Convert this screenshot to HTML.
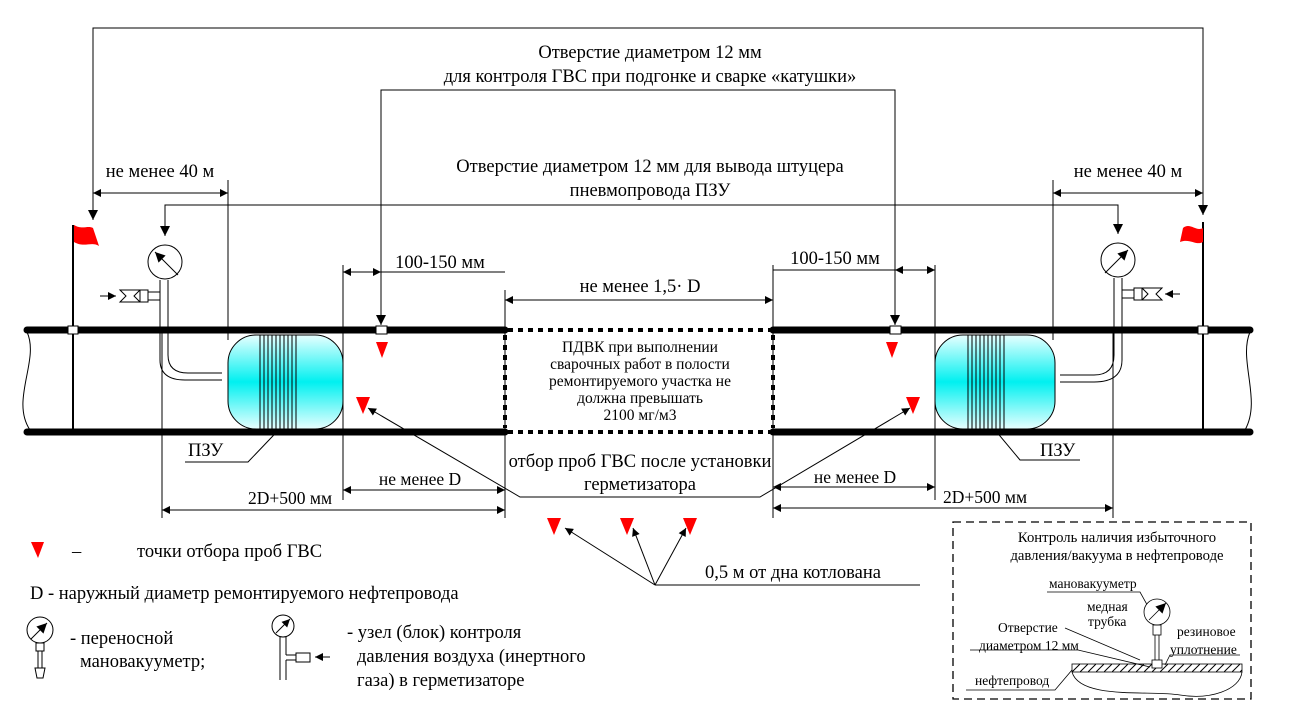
<!DOCTYPE html>
<html><head><meta charset="utf-8"><style>
html,body{margin:0;padding:0;background:#fff}
svg{display:block;font-size:18.5px}
text{font-family:"Liberation Serif",serif;fill:#000}
</style></head><body>
<svg width="1308" height="720" viewBox="0 0 1308 720" xmlns="http://www.w3.org/2000/svg">
<defs>
<marker id="a" viewBox="0 0 10 10" refX="10" refY="5" markerWidth="10" markerHeight="8" orient="auto-start-reverse" markerUnits="userSpaceOnUse"><path d="M0,0 L10,5 L0,10 z" fill="#000"/></marker>
<marker id="b" viewBox="0 0 10 10" refX="10" refY="5" markerWidth="14" markerHeight="10" orient="auto-start-reverse" markerUnits="userSpaceOnUse"><path d="M0,0 L10,5 L0,10 z" fill="#000"/></marker>
<linearGradient id="g" x1="0" y1="0" x2="0" y2="1"><stop offset="0" stop-color="#e8ffff"/><stop offset="0.5" stop-color="#00f0f0"/><stop offset="1" stop-color="#e8ffff"/></linearGradient>
<pattern id="h" width="8" height="8" patternUnits="userSpaceOnUse"><path d="M0,8 L8,0" stroke="#000" stroke-width="1"/></pattern>
</defs>
<g fill="none" stroke="#000" stroke-width="1">
<polyline points="93,220 93,28 1203,28 1203,215" marker-end="url(#b)" marker-start="url(#b)"/>
<polyline points="381,325 381,90 895,90 895,325" marker-end="url(#b)" marker-start="url(#b)"/>
<polyline points="165,236 165,205 1118,205 1118,234" marker-end="url(#b)" marker-start="url(#b)"/>
<line x1="228" y1="180" x2="228" y2="340"/>
<line x1="93" y1="193" x2="228" y2="193" marker-start="url(#a)" marker-end="url(#a)"/>
<line x1="1053" y1="180" x2="1053" y2="340"/>
<line x1="1053" y1="193" x2="1203" y2="193" marker-start="url(#a)" marker-end="url(#a)"/>
<line x1="343" y1="265" x2="343" y2="500"/>
<line x1="343" y1="272" x2="381" y2="272" marker-start="url(#a)" marker-end="url(#a)"/>
<line x1="381" y1="272" x2="505" y2="272"/>
<line x1="935" y1="265" x2="935" y2="500"/>
<line x1="895" y1="270" x2="935" y2="270" marker-start="url(#a)" marker-end="url(#a)"/>
<line x1="773" y1="270" x2="895" y2="270"/>
<line x1="505" y1="290" x2="505" y2="518"/>
<line x1="773" y1="265" x2="773" y2="518"/>
<line x1="505" y1="300" x2="773" y2="300" marker-start="url(#a)" marker-end="url(#a)"/>
<line x1="162" y1="330" x2="162" y2="518"/>
<line x1="1113" y1="330" x2="1113" y2="518"/>
<line x1="343" y1="490" x2="505" y2="490" marker-start="url(#a)" marker-end="url(#a)"/>
<line x1="162" y1="510" x2="505" y2="510" marker-start="url(#a)" marker-end="url(#a)"/>
<line x1="773" y1="487" x2="935" y2="487" marker-start="url(#a)" marker-end="url(#a)"/>
<line x1="773" y1="508" x2="1113" y2="508" marker-start="url(#a)" marker-end="url(#a)"/>
<polyline points="368,408 520,497 760,497 910,408" marker-start="url(#a)" marker-end="url(#a)"/>
<polyline points="920,585 655,585"/>
<line x1="655" y1="585" x2="565" y2="528" marker-end="url(#a)"/>
<line x1="655" y1="585" x2="633" y2="528" marker-end="url(#a)"/>
<line x1="655" y1="585" x2="686" y2="528" marker-end="url(#a)"/>
<polyline points="185,462 248,462 290,418" marker-end="url(#a)"/>
<polyline points="1080,460 1020,460 985,418" marker-end="url(#a)"/>
<path d="M27,332 C40,360 10,400 30,430"/>
<path d="M1250,332 C1238,360 1262,400 1245,430"/>
</g>
<g stroke="#000" stroke-width="7" stroke-linecap="round">
<line x1="27" y1="330" x2="505" y2="330"/><line x1="27" y1="432" x2="505" y2="432"/>
<line x1="773" y1="330" x2="1250" y2="330"/><line x1="773" y1="432" x2="1250" y2="432"/>
</g>
<g stroke="#000" stroke-width="4" stroke-dasharray="5,5" fill="none">
<line x1="508" y1="330" x2="770" y2="330"/><line x1="508" y1="432" x2="770" y2="432"/>
<line x1="505" y1="335" x2="505" y2="428"/><line x1="773" y1="335" x2="773" y2="428"/>
</g>
<line x1="73" y1="225" x2="73" y2="432" stroke="#000" stroke-width="2"/>
<path d="M74,225 C82,230 88,225 93,228 L99,246 C92,241 84,248 74,242z" fill="#f00"/>
<line x1="1203" y1="222" x2="1203" y2="432" stroke="#000" stroke-width="2"/>
<path d="M1183,228 C1190,222 1196,232 1203,228 L1203,242 C1196,246 1190,238 1180,242z" fill="#f00"/>
<g fill="#fff" stroke="#000"><rect x="68" y="326" width="10" height="8"/><rect x="1198" y="326" width="10" height="8"/><rect x="376" y="326" width="11" height="8"/><rect x="890" y="326" width="11" height="8"/></g>
<g fill="none" stroke="#000">
<circle cx="165" cy="262" r="17" fill="#fff"/><line x1="178" y1="275" x2="155" y2="252" marker-end="url(#b)"/>
<path d="M160,280 V330 M168,280 V330 M160,330 V360 Q160,380 185,380 H222 M168,330 V355 Q168,373 188,373 H222" />
<path d="M148,292 H160 M148,300 H160"/><path d="M120,290 l6,6 -6,6 h20 l-6,-6 6,-6z M140,290 v12 h8 v-12z"/>
<line x1="100" y1="296" x2="116" y2="296" marker-end="url(#a)"/>
<circle cx="1118" cy="260" r="17" fill="#fff"/><line x1="1105" y1="273" x2="1128" y2="250" marker-end="url(#b)"/>
<path d="M1114,278 V330 M1122,278 V330 M1114,330 V355 Q1114,375 1094,375 H1060 M1122,330 V360 Q1122,382 1094,382 H1060"/>
<path d="M1122,290 H1134 M1122,298 H1134"/><path d="M1134,288 h8 v12 h-8z M1142,288 l6,6 -6,6 h20 l-6,-6 6,-6z"/>
<line x1="1180" y1="294" x2="1165" y2="294" marker-end="url(#a)"/>
</g>
<g stroke="#000">
<rect x="228" y="335" width="115" height="94" rx="28" fill="url(#g)"/>
<rect x="935" y="335" width="120" height="94" rx="28" fill="url(#g)"/>
<path d="M260,335V429M264,335V429M268,335V429M272,335V429M276,335V429M280,335V429M284,335V429M288,335V429M292,335V429M296,335V429" fill="none"/>
<path d="M968,335V429M972,335V429M976,335V429M980,335V429M984,335V429M988,335V429M992,335V429M996,335V429M1000,335V429M1004,335V429" fill="none"/>
</g>
<g fill="#f00">
<path d="M376,342h12l-6,16z"/><path d="M356,397h14l-7,17z"/><path d="M886,342h12l-6,16z"/><path d="M906,397h14l-7,17z"/>
<path d="M547,518h14l-7,17z"/><path d="M620,518h14l-7,17z"/><path d="M683,518h14l-7,17z"/><path d="M31,542h13l-6,16z"/>
</g>
<g text-anchor="middle">
<text x="650" y="58">Отверстие диаметром 12 мм</text>
<text x="650" y="82">для контроля ГВС при подгонке и сварке «катушки»</text>
<text x="650" y="172">Отверстие диаметром 12 мм для вывода штуцера</text>
<text x="650" y="196">пневмопровода ПЗУ</text>
<text x="160" y="177">не менее 40 м</text>
<text x="1128" y="177">не менее 40 м</text>
<text x="440" y="268">100-150 мм</text>
<text x="835" y="264">100-150 мм</text>
<text x="640" y="292">не менее 1,5· D</text>
<g style="font-size:15.5px"><text x="640" y="352">ПДВК при выполнении</text><text x="640" y="369">сварочных работ в полости</text><text x="640" y="386">ремонтируемого участка не</text><text x="640" y="403">должна превышать</text><text x="640" y="420">2100 мг/м3</text></g>
<text x="640" y="467">отбор проб ГВС после установки</text>
<text x="640" y="490">герметизатора</text>
<text x="420" y="485" style="font-size:17.5px">не менее D</text>
<text x="290" y="504" style="font-size:17.5px">2D+500 мм</text>
<text x="855" y="483" style="font-size:17.5px">не менее D</text>
<text x="985" y="503" style="font-size:17.5px">2D+500 мм</text>
<text x="793" y="578">0,5 м от дна котлована</text>
</g>
<text x="188" y="456">ПЗУ</text>
<text x="1040" y="456">ПЗУ</text>
<text x="72" y="557">–</text>
<text x="137" y="557">точки отбора проб ГВС</text>
<text x="30" y="599">D - наружный диаметр ремонтируемого нефтепровода</text>
<g fill="none" stroke="#000">
<circle cx="40" cy="630" r="13"/><line x1="31" y1="639" x2="47" y2="623" marker-end="url(#b)"/>
<rect x="36" y="643" width="8" height="8"/><path d="M38,651V668M42,651V668M35,668h10l-2,10h-6z"/>
<circle cx="283" cy="626" r="11"/><line x1="276" y1="633" x2="290" y2="619" marker-end="url(#a)"/>
<path d="M280,637V680M286,637V655M286,660V680M286,655h10M286,660h10M296,653h14v9h-14z"/>
<line x1="330" y1="657" x2="315" y2="657" marker-end="url(#a)"/>
</g>
<text x="70" y="644">- переносной</text>
<text x="80" y="667">мановакуумeтр;</text>
<text x="347" y="638">- узел (блок) контроля</text>
<text x="357" y="662">давления воздуха (инертного</text>
<text x="357" y="686">газа) в герметизаторе</text>
<rect x="953" y="522" width="298" height="177" fill="none" stroke="#000" stroke-width="1.3" stroke-dasharray="8,5"/>
<g style="font-size:14.7px" text-anchor="middle"><text x="1117" y="542">Контроль наличия избыточного</text><text x="1117" y="560">давления/вакуума в нефтепроводе</text></g>
<g style="font-size:13.5px">
<text x="1049" y="588">мановакуумeтр</text>
<text x="1087" y="611">медная</text><text x="1088" y="626">трубка</text>
<text x="998" y="632">Отверстие</text><text x="979" y="650">диаметром 12 мм</text>
<text x="1177" y="636">резиновое</text><text x="1170" y="654">уплотнение</text>
<text x="975" y="685">нефтепровод</text>
</g>
<g fill="none" stroke="#000" stroke-width="0.8">
<polyline points="1047,592 1140,592 1150,610"/>
<polyline points="1065,628 1140,660"/>
<polyline points="970,650 1078,650 1150,667"/>
<polyline points="1240,655 1170,655 1165,665"/>
<polyline points="966,690 1055,690 1072,670"/>
<rect x="1072" y="664" width="170" height="8" fill="url(#h)"/>
<path d="M1072,672 C1080,700 1150,690 1180,695 C1210,700 1240,690 1242,672"/>
<circle cx="1157" cy="612" r="13" fill="#fff"/><line x1="1149" y1="620" x2="1166" y2="603" marker-end="url(#b)"/>
<rect x="1153" y="625" width="8" height="10"/><path d="M1155,635V668M1159,635V668"/><rect x="1152" y="660" width="10" height="8" fill="#fff"/>
</g>
</svg>
</body></html>
